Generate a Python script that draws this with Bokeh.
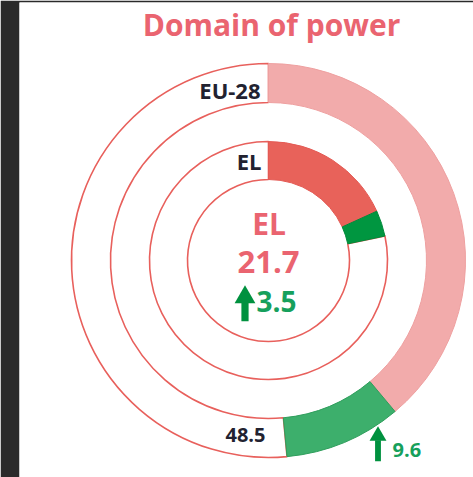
import math
from bokeh.plotting import figure
from bokeh.models import Range1d
from bokeh.core.properties import value
from bokeh.embed import file_html
from bokeh.resources import INLINE

# ---- data ----
title = "Domain of power"
rings = ["EU-28", "EL"]
scores = [48.5, 21.7]
changes = [9.6, 3.5]
centre_label = "EL"
centre_score = "21.7"
centre_change = "3.5"

# ---- style / layout ----
FONT = value("Open Sans")
PINK = "#ea6470"
OUT_RED = "#e8605c"
DARK = "#222230"
base_colors = ["#f2abab", "#e8625a"]
base_lines = ["#eea0a0", "#e45a54"]
change_colors = ["#3daf6c", "#009640"]
change_lines = ["#2f9e5c", "#008a3a"]
radii = [(158, 197), (81, 119)]

p = figure(width=473, height=477, output_backend="svg", toolbar_location=None,
           x_axis_type=None, y_axis_type=None,
           x_range=Range1d(-249, 205), y_range=Range1d(-217, 258),
           min_border_left=19, min_border_right=0, min_border_top=2, min_border_bottom=0,
           border_fill_color="#2a2a2a", background_fill_color="white",
           outline_line_color=None)
p.grid.visible = False

top = math.pi / 2
for i, name in enumerate(rings):
    ri, ro = radii[i]
    a_base = top - 2 * math.pi * (scores[i] - changes[i]) / 100
    a_score = top - 2 * math.pi * scores[i] / 100
    # remainder (white, outlined)
    p.annular_wedge(x=0, y=0, inner_radius=ri, outer_radius=ro,
                    start_angle=a_score, end_angle=top, direction="clock",
                    fill_color="white", line_color=OUT_RED, line_width=1.6)
    # base
    p.annular_wedge(x=0, y=0, inner_radius=ri, outer_radius=ro,
                    start_angle=top, end_angle=a_base, direction="clock",
                    fill_color=base_colors[i], line_color=base_lines[i], line_width=1)
    # change
    p.annular_wedge(x=0, y=0, inner_radius=ri, outer_radius=ro,
                    start_angle=a_base, end_angle=a_score, direction="clock",
                    fill_color=change_colors[i], line_color=change_lines[i], line_width=1)

# title
p.text(x=[3], y=[236], text=[title], text_font=FONT, text_font_size="30px",
       text_font_style="bold", text_color=PINK, text_align="center",
       text_baseline="alphabetic")

# ring labels
p.text(x=[-8, -7], y=[171, 100], text=rings, text_font=FONT, text_font_size="22px",
       text_font_style="bold", text_color=DARK, text_align="right",
       text_baseline="alphabetic")

# centre
p.text(x=[0.5], y=[37], text=[centre_label], text_font=FONT, text_font_size="30px",
       text_font_style="bold", text_color=PINK, text_align="center",
       text_baseline="alphabetic")
p.text(x=[0], y=[-1], text=[centre_score], text_font=FONT, text_font_size="31px",
       text_font_style="bold", text_color=PINK, text_align="center",
       text_baseline="alphabetic")
p.text(x=[-12], y=[-41], text=[centre_change], text_font=FONT, text_font_size="28px",
       text_font_style="bold", text_color="#16a05c", text_align="left",
       text_baseline="alphabetic")

# EU score and change labels
p.text(x=[-3], y=[-174], text=[str(scores[0])], text_font=FONT, text_font_size="20px",
       text_font_style="bold", text_color=DARK, text_align="right",
       text_baseline="alphabetic")
p.text(x=[124], y=[-189], text=[str(changes[0])], text_font=FONT, text_font_size="20px",
       text_font_style="bold", text_color="#16a05c", text_align="left",
       text_baseline="alphabetic")

# arrows (head + stem)
ARROW = "#00913f"
arrow_x = [-23.5, 109.5]
arrow_top = [-30, -170]
arrow_len = [30, 30]
head_w = [16, 13]
for ax, at, al, hw in zip(arrow_x, arrow_top, arrow_len, head_w):
    p.rect(x=ax, y=at - al * 0.35 - (al * 0.65) / 2, width=hw * 0.45, height=al * 0.7,
           fill_color=ARROW, line_color=None)
    p.scatter(x=ax, y=at - hw * 0.42, marker="triangle", size=hw * 1.3,
              fill_color=ARROW, line_color=None)

open("out.html", "w").write(file_html(p, INLINE))
